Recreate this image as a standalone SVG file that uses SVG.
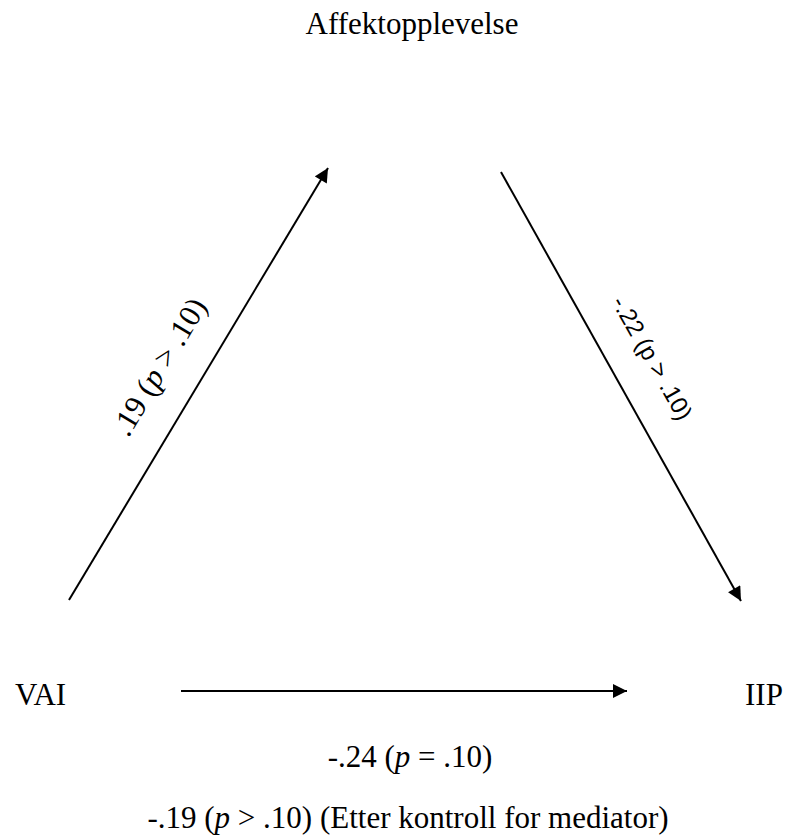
<svg xmlns="http://www.w3.org/2000/svg" width="788" height="838" viewBox="0 0 788 838">
<style>
.t{font-family:"Liberation Serif","Times New Roman",serif;font-size:31px;fill:#000}
.s{font-family:"Liberation Sans","Arial",sans-serif;font-size:24px;fill:#000}
.e{stroke:#000;stroke-width:2;fill:none}
</style>
<defs>
<marker id="ah" viewBox="0 0 10 10" refX="10" refY="5" markerWidth="8" markerHeight="7" orient="auto" markerUnits="strokeWidth">
<path d="M0,0 L10,5 L0,10 z" fill="#000"/>
</marker>
</defs>
<rect width="788" height="838" fill="#fff"/>
<g id="connectors">
<line class="e" x1="69" y1="600" x2="328" y2="168" marker-end="url(#ah)"/>
<line class="e" x1="501" y1="172" x2="741" y2="601" marker-end="url(#ah)"/>
<line class="e" x1="181" y1="691" x2="627" y2="691" marker-end="url(#ah)"/>
<text class="t" transform="translate(168,372) rotate(-59)" text-anchor="middle">.19 (<tspan font-style="italic">p</tspan> &gt; .10)</text>
<text class="s" transform="translate(645,362) rotate(60.5)" text-anchor="middle">-.22 (p &gt; .10)</text>
<text class="t" x="410" y="767" text-anchor="middle">-.24 (<tspan font-style="italic">p</tspan> = .10)</text>
<text class="t" x="408" y="828" text-anchor="middle">-.19 (<tspan font-style="italic">p</tspan> &gt; .10) (Etter kontroll for mediator)</text>
</g>
<g id="affekt"><text class="t" x="412" y="34" text-anchor="middle">Affektopplevelse</text></g>
<g id="vai"><text class="t" x="15" y="705">VAI</text></g>
<g id="iip"><text class="t" x="745" y="705">IIP</text></g>
</svg>
